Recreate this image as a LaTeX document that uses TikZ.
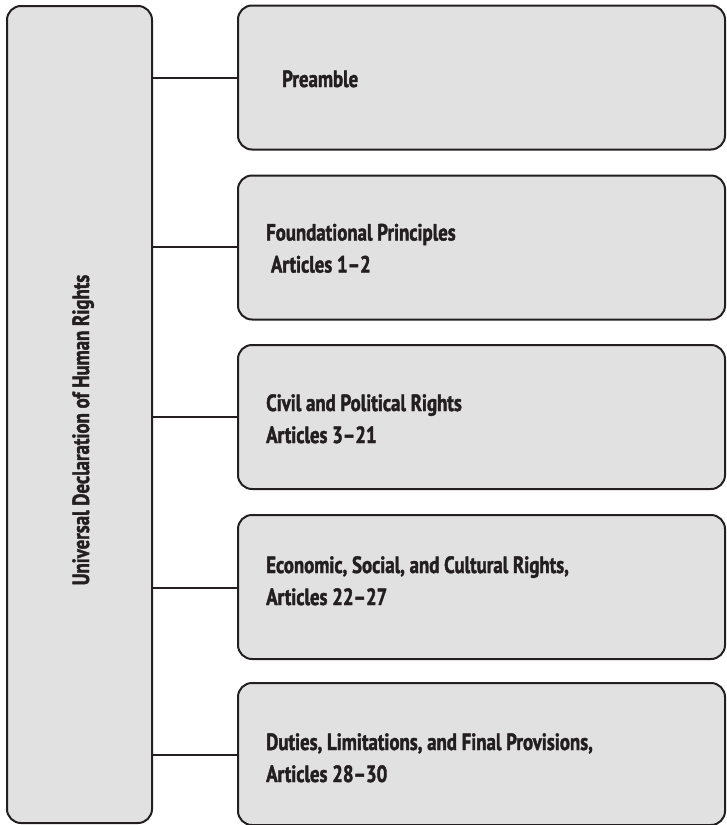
\documentclass[tikz,border=0pt]{standalone}
\usepackage{fontspec}
\setmainfont[FakeStretch=0.8, BoldFeatures={FakeBold=1.7}]{PT Sans}
\definecolor{boxfill}{HTML}{E1E1E1}
\definecolor{ink}{HTML}{231F20}
\begin{document}
\begin{tikzpicture}[x=1pt,y=-1pt,
  box/.style={draw=ink, fill=boxfill, line width=2pt, rounded corners=14pt, inner sep=0pt},
  rbox/.style={box, minimum width=487pt, minimum height=144pt},
  link/.style={draw=ink, line width=2pt},
  txt/.style={text=ink, font=\bfseries\fontsize{23.5}{32}\selectfont, inner sep=0pt, anchor=base west}]
\useasboundingbox (0,0) rectangle (726,825);
\node[box, minimum width=145pt, minimum height=817pt] (L) at (79.5,414.5) {};
\node[txt, anchor=base, rotate=90] (Lt) at (89,430) {Universal Declaration of Human Rights};

\node[rbox] (B1) at (481.5,77.5) {};
\node[rbox] (B2) at (481.5,247.5) {};
\node[rbox] (B3) at (481.5,417) {};
\node[rbox] (B4) at (481.5,587) {};
\node[rbox, minimum height=142pt] (B5) at (481.5,754) {};

\foreach \i/\y in {1/78,2/247,3/417,4/588,5/755}{
  \coordinate (s\i) at (L.east |- 0,\y);
  \coordinate (e\i) at (B\i.west |- 0,\y);
  \draw[link] (s\i) -- (e\i);
}

\node[txt] (t1) at (282,87) {Preamble};
\node[txt] (t2a) at (266,240.5) {Foundational Principles};
\node[txt] (t2b) at (266,272.5) {\ Articles 1–2};
\node[txt] (t3a) at (266,411) {Civil and Political Rights};
\node[txt] (t3b) at (266,443) {Articles 3–21};
\node[txt] (t4a) at (266,573) {Economic, Social, and Cultural Rights,};
\node[txt] (t4b) at (266,605) {Articles 22–27};
\node[txt] (t5a) at (266,750) {Duties, Limitations, and Final Provisions,};
\node[txt] (t5b) at (266,782) {Articles 28–30};
\end{tikzpicture}
\end{document}
